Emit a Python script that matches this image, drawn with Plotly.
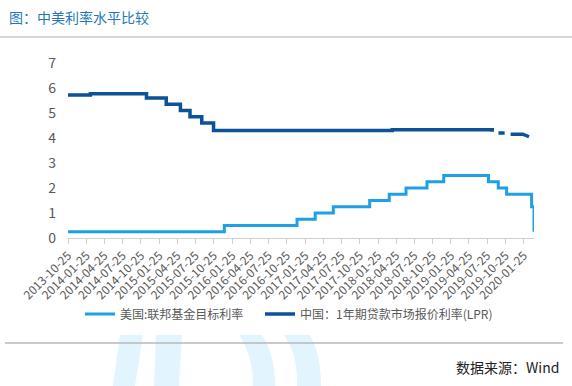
import plotly.graph_objects as go

# ---------------- data ----------------
us_dates = ['2013-10-25', '2015-12-17', '2016-12-15', '2017-03-16', '2017-06-15',
            '2017-12-14', '2018-03-22', '2018-06-14', '2018-09-27', '2018-12-20',
            '2019-08-01', '2019-09-19', '2019-10-31', '2020-03-04', '2020-03-16']
us_rates = [0.25, 0.50, 0.75, 1.00, 1.25, 1.50, 1.75, 2.00, 2.25, 2.50,
            2.25, 2.00, 1.75, 1.25, 0.25]

cn_dates = ['2013-10-25', '2014-02-14', '2014-11-22', '2015-03-01', '2015-05-11',
            '2015-06-28', '2015-08-26', '2015-10-24', '2018-04-06', '2019-08-19', '2019-08-20']
cn_rates = [5.72, 5.77, 5.60, 5.35, 5.10, 4.85, 4.60, 4.30, 4.33, 4.33, 4.25]

# new LPR monthly quotes (gaps = missing data)
cn_new_dates = ['2019-09-20', '2019-10-21', None, '2019-11-20', '2019-12-20', '2020-01-20', '2020-02-20']
cn_new_rates = [4.20, 4.20, None, 4.15, 4.15, 4.15, 4.05]

tick_labels = ['2013-10-25', '2014-01-25', '2014-04-25', '2014-07-25', '2014-10-25',
               '2015-01-25', '2015-04-25', '2015-07-25', '2015-10-25', '2016-01-25',
               '2016-04-25', '2016-07-25', '2016-10-25', '2017-01-25', '2017-04-25',
               '2017-07-25', '2017-10-25', '2018-01-25', '2018-04-25', '2018-07-25',
               '2018-10-25', '2019-01-25', '2019-04-25', '2019-07-25', '2019-10-25',
               '2020-01-25']

us_name = '美国:联邦基金目标利率'
cn_name = '中国：1年期贷款市场报价利率(LPR)'
title_text = '图：中美利率水平比较'
source_text = '数据来源：Wind'

# ---------------- layout constants ----------------
W, H = 572, 386
L, R, T, B = 68, 38, 63, 148
PW, PH = W - L - R, H - T - B
FONT = 'Noto Sans CJK SC, Microsoft YaHei, sans-serif'
US_COLOR = '#1ea0e4'
CN_COLOR = '#0d5197'
GRAY_TXT = '#595959'


def px(x):
    return (x - L) / PW


def py(y):
    return (H - B - y) / PH


fig = go.Figure()
fig.add_trace(go.Scatter(x=us_dates, y=us_rates, mode='lines', name=us_name,
                         legend='legend',
                         line=dict(color=US_COLOR, width=3, shape='hv')))
fig.add_trace(go.Scatter(x=cn_dates, y=cn_rates, mode='lines', name=cn_name,
                         legend='legend2', legendgroup='cn',
                         line=dict(color=CN_COLOR, width=3.5, shape='hv')))
fig.add_trace(go.Scatter(x=cn_new_dates, y=cn_new_rates, mode='lines', name=cn_name,
                         legend='legend2', legendgroup='cn', showlegend=False,
                         connectgaps=False,
                         line=dict(color=CN_COLOR, width=3.5, shape='linear')))

shapes = []
# watermark shapes
wm = '#e2f4fd'
bar1 = f"M {px(120)},{py(335)} L {px(143)},{py(335)} L {px(135)},{py(386)} L {px(113)},{py(386)} Z"
bar2 = f"M {px(156)},{py(335)} L {px(182)},{py(335)} L {px(179)},{py(386)} L {px(154)},{py(386)} Z"
cur3 = (f"M {px(239)},{py(335)} Q {px(253)},{py(355)} {px(253)},{py(386)} "
        f"L {px(275)},{py(386)} Q {px(275)},{py(355)} {px(262)},{py(335)} Z")
cur4 = (f"M {px(284)},{py(335)} Q {px(298)},{py(355)} {px(297)},{py(386)} "
        f"L {px(321)},{py(386)} Q {px(321)},{py(355)} {px(310)},{py(335)} Z")
for p in (bar1, bar2, cur3, cur4):
    shapes.append(dict(type='path', path=p, xref='paper', yref='paper',
                       fillcolor=wm, line=dict(width=0), layer='below'))

# separator lines
shapes.append(dict(type='line', xref='paper', yref='paper', x0=px(0), x1=px(572),
                   y0=py(37), y1=py(37), line=dict(color='#c8c8c8', width=1.5)))
shapes.append(dict(type='line', xref='paper', yref='paper', x0=px(5), x1=px(563),
                   y0=py(343), y1=py(343), line=dict(color='#b9b9b9', width=1.5)))

annotations = [
    dict(text=title_text, xref='paper', yref='paper', x=px(7), y=py(17),
         xanchor='left', yanchor='middle', showarrow=False,
         font=dict(family=FONT, size=14, color='#2477b8')),
    dict(text=source_text, xref='paper', yref='paper', x=px(561), y=py(367),
         xanchor='right', yanchor='middle', showarrow=False,
         font=dict(family=FONT, size=14, color='#222222')),
]

legend_common = dict(orientation='h', xanchor='left', y=py(314), yanchor='middle',
                     font=dict(family=FONT, size=12, color=GRAY_TXT), itemwidth=30,
                     bgcolor='rgba(0,0,0,0)')

fig.update_layout(
    width=W, height=H,
    margin=dict(l=L, r=R, t=T, b=B, autoexpand=False),
    paper_bgcolor='white', plot_bgcolor='white',
    font=dict(family=FONT, color=GRAY_TXT),
    showlegend=True,
    legend=dict(x=px(80), **legend_common),
    legend2=dict(x=px(260), **legend_common),
    shapes=shapes,
    annotations=annotations,
    xaxis=dict(type='date', range=['2013-10-25', '2020-03-16'], automargin=False,
               tickvals=tick_labels, ticktext=tick_labels, tickangle=-45,
               ticks='outside', ticklen=5, tickcolor='#d0d0d0',
               showline=True, linecolor='#d0d0d0', linewidth=1,
               showgrid=False, zeroline=False,
               tickfont=dict(family=FONT, size=12, color=GRAY_TXT)),
    yaxis=dict(range=[0, 7], dtick=1, showgrid=False, zeroline=False, showline=False,
               automargin=False, ticklabelstandoff=11,
               tickfont=dict(family=FONT, size=14, color=GRAY_TXT)),
)

fig.write_html('out.html', config={'displayModeBar': False},
               post_script="document.body.style.margin='0';document.body.style.padding='0';")
